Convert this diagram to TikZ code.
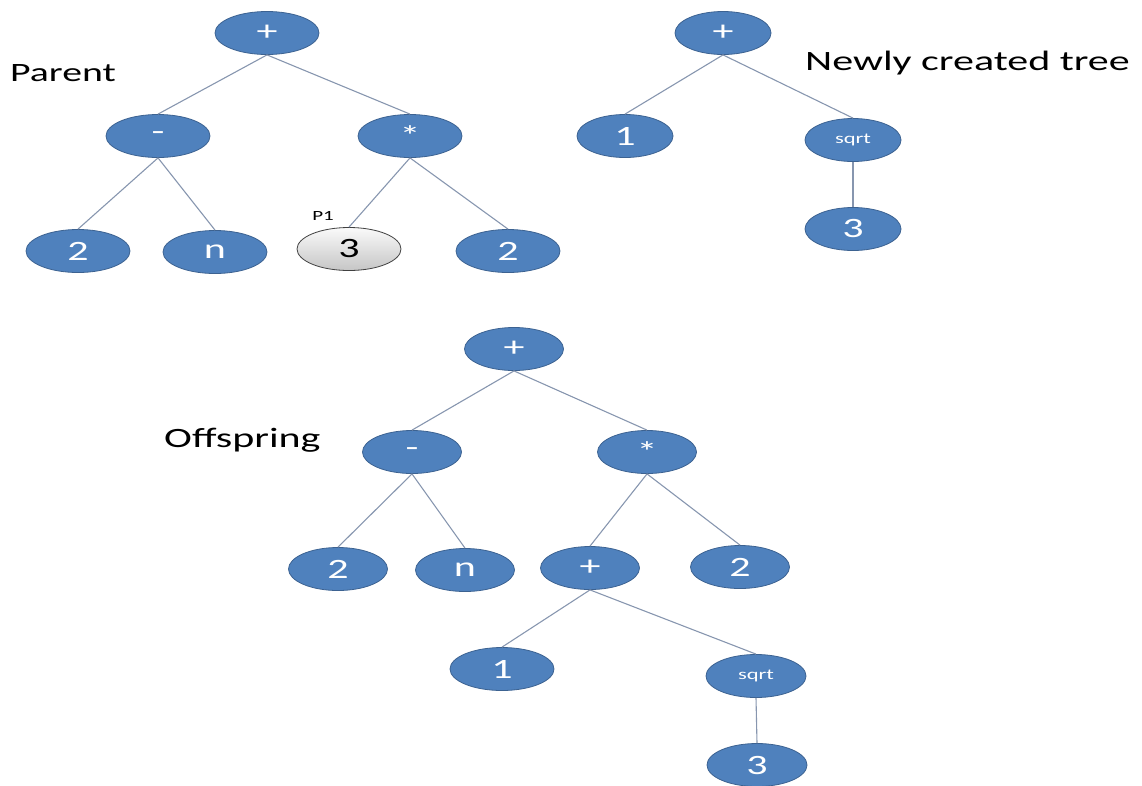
\documentclass[tikz,border=0pt]{standalone}
\usepackage{fontspec}
\setmainfont{Carlito}[FakeStretch=1.5]
\usetikzlibrary{shapes.geometric}
\definecolor{nodeblue}{RGB}{79,129,189}
\definecolor{nodeedge}{RGB}{60,98,145}
\definecolor{linkc}{RGB}{135,150,175}

\begin{document}
\begin{tikzpicture}[x=1pt,y=-1pt,
  tn/.style={ellipse, fill=nodeblue, draw=nodeedge, line width=0.8pt,
    minimum width=104pt, minimum height=43pt, inner sep=0pt,
    text=white, font=\fontsize{28}{30}\selectfont},
  sq/.style={tn, font=\fontsize{15}{17}\selectfont},
  picked/.style={tn, fill=none, top color=gray!4, bottom color=gray!45,
    draw=black!75, text=black},
  link/.style={draw=linkc, line width=1.1pt},
  lbl/.style={anchor=west, inner sep=0pt, text=black,
    font=\fontsize{28}{30}\selectfont},
  tag/.style={inner sep=0pt, text=black, font=\fontsize{14}{16}\selectfont}
]
\useasboundingbox (0,0) rectangle (1142,785);

% Parent tree
\node[tn] (a0) at (267,33) {+};
\node[tn] (a1) at (158,136) {-};
\node[tn] (a2) at (410,136) {*};
\node[tn] (a3) at (78,251) {2};
\node[tn] (a4) at (215,252) {n};
\node[picked] (a5) at (349,249) {3};
\node[tn] (a6) at (508,251) {2};
\node[tag] (p1) at (323,216) {P1};
\node[lbl, font=\fontsize{26.5}{29}\selectfont] (tp) at (10,73) {Parent};
\draw[link] (a0.south) -- (a1.north);
\draw[link] (a0.south) -- (a2.north);
\draw[link] (a1.south) -- (a3.north);
\draw[link] (a1.south) -- (a4.north);
\draw[link] (a2.south) -- (a5.north);
\draw[link] (a2.south) -- (a6.north);

% Newly created subtree
\node[tn, minimum width=96pt] (b0) at (723,33) {+};
\node[tn, minimum width=96pt] (b1) at (625,136) {1};
\node[sq, minimum width=96pt] (b2) at (853,140) {sqrt};
\node[tn, minimum width=96pt] (b3) at (853,229) {3};
\node[lbl] (tn) at (805,63) {Newly created tree};
\draw[link] (b0.south) -- (b1.north);
\draw[link] (b0.south) -- (b2.north);
\draw[link] (b2.south) -- (b3.north);

% Offspring tree
\node[tn, minimum width=99pt] (c0) at (514,349) {+};
\node[tn, minimum width=99pt] (c1) at (412,452) {-};
\node[tn, minimum width=99pt] (c2) at (647,452) {*};
\node[tn, minimum width=99pt] (c3) at (338,569) {2};
\node[tn, minimum width=99pt] (c4) at (465,570) {n};
\node[tn, minimum width=99pt] (c5) at (590,568) {+};
\node[tn, minimum width=99pt] (c6) at (740,567) {2};
\node[tn, minimum width=104pt] (c7) at (502,669) {1};
\node[sq, minimum width=100pt] (c8) at (756,676) {sqrt};
\node[tn, minimum width=100pt] (c9) at (757,765) {3};
\node[lbl] (to) at (164,440) {Offspring};
\draw[link] (c0.south) -- (c1.north);
\draw[link] (c0.south) -- (c2.north);
\draw[link] (c1.south) -- (c3.north);
\draw[link] (c1.south) -- (c4.north);
\draw[link] (c2.south) -- (c5.north);
\draw[link] (c2.south) -- (c6.north);
\draw[link] (c5.south) -- (c7.north);
\draw[link] (c5.south) -- (c8.north);
\draw[link] (c8.south) -- (c9.north);
\end{tikzpicture}
\end{document}
